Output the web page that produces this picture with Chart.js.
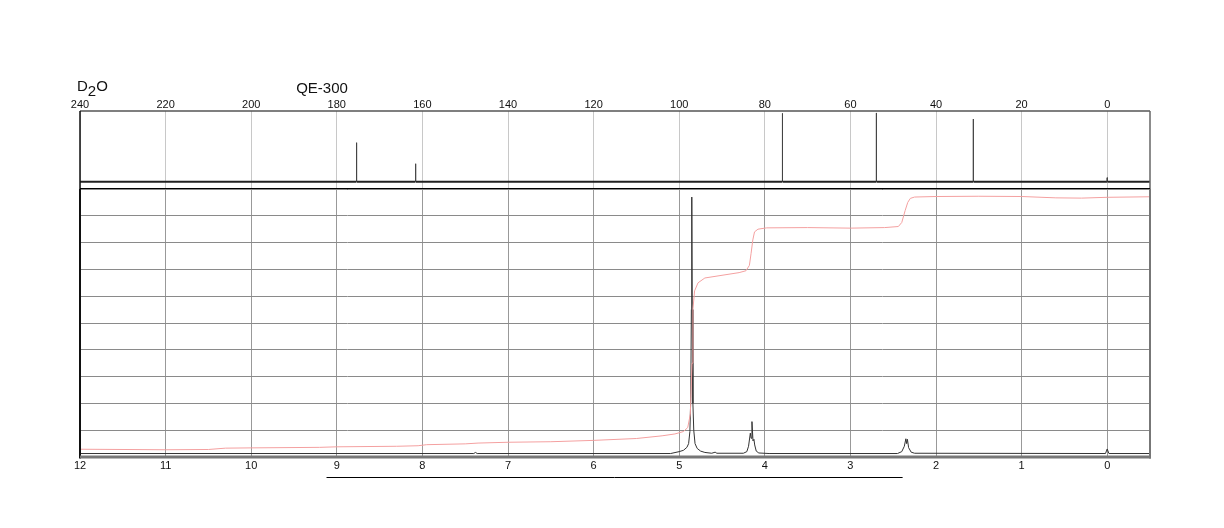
<!DOCTYPE html>
<html><head><meta charset="utf-8">
<script src="https://cdn.jsdelivr.net/npm/chart.js@4.4.1/dist/chart.umd.min.js"></script>
<style>
html,body{margin:0;padding:0;background:#fff;}
#wrap{position:relative;width:1224px;height:528px;overflow:hidden;}
canvas{position:absolute;left:0;top:0;}
</style></head><body>
<div id="wrap"><canvas id="c13" width="1224" height="528"></canvas><canvas id="h1" width="1224" height="528"></canvas></div>
<script>
// ---- tick labels ----
const cTicks = [240, 220, 200, 180, 160, 140, 120, 100, 80, 60, 40, 20, 0];
const hTicks = [12, 11, 10, 9, 8, 7, 6, 5, 4, 3, 2, 1, 0];
const hGridLevels = [0, 1, 2, 3, 4, 5, 6, 7, 8, 9, 10];

// ---- 13C spectrum (ppm, relative intensity) ----
const cShift =     [240, 175.45, 175.4, 175.35, 161.65, 161.6, 161.55, 75.95, 75.9, 75.85, 54.0, 53.95, 53.9, 31.35, 31.3, 31.25, 0.05, 0, -0.05, -10];
const cIntensity = [9.4, 9.4,    59.4,  9.4,    9.4,    32.4,  9.4,    9.4,   97,   9.4,   9.4,  97.5,  9.4,  9.4,   89.7, 9.4,   9.4,  14.5, 9.4, 9.4];

// ---- 1H spectrum ----
const hShift = [12, 7.40, 7.38, 7.36, 5.1, 5.0, 4.95, 4.91, 4.89, 4.875, 4.865, 4.858, 4.853, 4.848, 4.84, 4.83, 4.815, 4.79, 4.75, 4.70, 4.62, 4.58, 4.56,
  4.25, 4.21, 4.19, 4.169, 4.16, 4.150, 4.138, 4.127, 4.118, 4.10, 4.07, 3.95,
  2.45, 2.40, 2.37, 2.352, 2.343, 2.334, 2.32, 2.29, 2.25, 0.02, 0.0, -0.02, -0.5];
const hIntensity = [0.13, 0.13, 0.17, 0.13, 0.13, 0.2, 0.25, 0.36, 0.5, 0.95, 2.2, 5.5, 9.7, 5.5, 2.0, 1.0, 0.5, 0.32, 0.22, 0.17, 0.14, 0.18, 0.14,
  0.14, 0.2, 0.4, 0.89, 0.7, 1.32, 0.6, 0.66, 0.45, 0.22, 0.15, 0.13,
  0.13, 0.2, 0.4, 0.68, 0.5, 0.66, 0.35, 0.18, 0.14, 0.13, 0.3, 0.13, 0.13];

// ---- 1H integral curve ----
const intShift = [12, 11, 10.5, 10.3, 10, 9.2, 9, 8.3, 8.05, 7.95, 7.5, 7.35, 7, 6.5, 6, 5.5, 5.2, 5.05, 4.95, 4.9, 4.87, 4.85, 4.84, 4.82, 4.78, 4.7, 4.5, 4.3, 4.22, 4.18, 4.16, 4.14, 4.12, 4.08, 3.98, 3.5, 3, 2.6, 2.44, 2.4, 2.36, 2.33, 2.3, 2.25, 2, 1.5, 1, 0.6, 0.3, 0, -0.5];
const intValue = [0.29, 0.27, 0.28, 0.33, 0.34, 0.36, 0.38, 0.40, 0.42, 0.46, 0.49, 0.52, 0.55, 0.57, 0.62, 0.69, 0.79, 0.86, 0.95, 1.1, 1.6, 3.5, 5.5, 6.2, 6.5, 6.68, 6.78, 6.88, 6.95, 7.15, 7.6, 8.1, 8.4, 8.5, 8.55, 8.56, 8.54, 8.56, 8.6, 8.75, 9.2, 9.5, 9.65, 9.7, 9.72, 9.73, 9.72, 9.67, 9.66, 9.69, 9.71];

const scaleBarPpm = [9.12, 2.39];
const solventLabel = ['D', '2', 'O'];
const instrumentLabel = 'QE-300';

const FONT = '"Liberation Sans", Arial, Helvetica, sans-serif';
const toXY = (xs, ys) => xs.map((x, i) => ({x: x, y: ys[i]}));

// ---------- 13C chart (top) ----------
const topFrame = {
  id: 'topFrame',
  afterDraw(chart) {
    const {ctx, chartArea: a} = chart;
    ctx.save();
    ctx.lineWidth = 1.5; ctx.strokeStyle = '#555';
    ctx.beginPath(); ctx.moveTo(a.left, a.top); ctx.lineTo(a.right, a.top); ctx.stroke();
    ctx.strokeStyle = '#666';
    ctx.beginPath(); ctx.moveTo(a.right, a.top); ctx.lineTo(a.right, a.bottom); ctx.stroke();
    ctx.strokeStyle = '#111';
    ctx.beginPath(); ctx.moveTo(a.left, a.top); ctx.lineTo(a.left, a.bottom); ctx.stroke();
    ctx.lineWidth = 2; ctx.strokeStyle = '#000';
    ctx.beginPath(); ctx.moveTo(a.left, a.bottom); ctx.lineTo(a.right, a.bottom); ctx.stroke();
    // titles
    ctx.fillStyle = '#111';
    ctx.font = '15px ' + FONT;
    ctx.textBaseline = 'alphabetic'; ctx.textAlign = 'left';
    let x = 77;
    ctx.fillText(solventLabel[0], x, 91); x += ctx.measureText(solventLabel[0]).width;
    ctx.fillText(solventLabel[1], x, 95.5); x += ctx.measureText(solventLabel[1]).width;
    ctx.fillText(solventLabel[2], x, 91);
    ctx.textAlign = 'center';
    ctx.fillText(instrumentLabel, 322, 93);
    ctx.restore();
  }
};

new Chart(document.getElementById('c13'), {
  type: 'line',
  data: { datasets: [{
    data: toXY(cShift, cIntensity),
    borderColor: '#222', borderWidth: 1, pointRadius: 0, tension: 0,
    segment: {
      borderWidth: c => (c.p0.parsed.y === c.p1.parsed.y ? 2 : 1),
      borderColor: c => (c.p0.parsed.y === c.p1.parsed.y ? '#222' : '#444')
    }
  }]},
  options: {
    responsive: false, animation: false, devicePixelRatio: 1,
    layout: { padding: { left: 80, right: 74, top: 94, bottom: 339 } },
    plugins: { legend: { display: false }, tooltip: { enabled: false } },
    scales: {
      x: {
        type: 'linear', position: 'top', reverse: true, min: -10, max: 240,
        afterBuildTicks: s => { s.ticks = cTicks.map(v => ({value: v})); },
        afterFit: s => { s.height = 17; },
        ticks: { color: '#111', font: { family: FONT, size: 11 }, padding: -1, maxRotation: 0, autoSkip: false },
        grid: { color: '#c8c8c8', lineWidth: 1, drawTicks: false },
        border: { display: false }
      },
      y: { display: false, min: 0, max: 100 }
    }
  },
  plugins: [topFrame]
});

// ---------- 1H chart (bottom) ----------
const bottomFrame = {
  id: 'bottomFrame',
  afterDraw(chart) {
    const {ctx, chartArea: a, scales} = chart;
    ctx.save();
    ctx.lineWidth = 2; ctx.strokeStyle = '#111';
    ctx.beginPath(); ctx.moveTo(a.left, a.top); ctx.lineTo(a.left, a.bottom + 1.5); ctx.stroke();
    ctx.strokeStyle = '#777';
    ctx.beginPath(); ctx.moveTo(a.right, a.top); ctx.lineTo(a.right, a.bottom + 1.5); ctx.stroke();
    ctx.lineWidth = 3; ctx.strokeStyle = '#777';
    ctx.beginPath(); ctx.moveTo(a.left, a.bottom); ctx.lineTo(a.right + 1, a.bottom); ctx.stroke();
    // scale bar under the axis
    ctx.lineWidth = 1; ctx.strokeStyle = '#000';
    const x1 = scales.x.getPixelForValue(scaleBarPpm[0]);
    const x2 = scales.x.getPixelForValue(scaleBarPpm[1]);
    ctx.beginPath(); ctx.moveTo(x1, 477.5); ctx.lineTo(x2, 477.5); ctx.stroke();
    ctx.restore();
  }
};

new Chart(document.getElementById('h1'), {
  type: 'line',
  data: { datasets: [
    { data: toXY(intShift, intValue), borderColor: '#f4a0a0', borderWidth: 1, pointRadius: 0, tension: 0 },
    { data: toXY(hShift, hIntensity), borderColor: '#333', borderWidth: 1, pointRadius: 0, tension: 0 }
  ]},
  options: {
    responsive: false, animation: false, devicePixelRatio: 1,
    layout: { padding: { left: 80, right: 74, top: 189, bottom: 51 } },
    plugins: { legend: { display: false }, tooltip: { enabled: false } },
    scales: {
      x: {
        type: 'linear', position: 'bottom', reverse: true, min: -0.5, max: 12,
        afterBuildTicks: s => { s.ticks = hTicks.map(v => ({value: v})); },
        afterFit: s => { s.height = 20; },
        ticks: { color: '#111', font: { family: FONT, size: 11 }, padding: 2, maxRotation: 0, autoSkip: false },
        grid: { color: '#999', lineWidth: 1, drawTicks: false },
        border: { display: false }
      },
      y: {
        min: 0, max: 10,
        afterBuildTicks: s => { s.ticks = hGridLevels.map(v => ({value: v})); },
        afterFit: s => { s.width = 0; },
        ticks: { display: false },
        grid: { color: '#8a8a8a', lineWidth: 1, drawTicks: false },
        border: { display: false }
      }
    }
  },
  plugins: [bottomFrame]
});
</script>
</body></html>
